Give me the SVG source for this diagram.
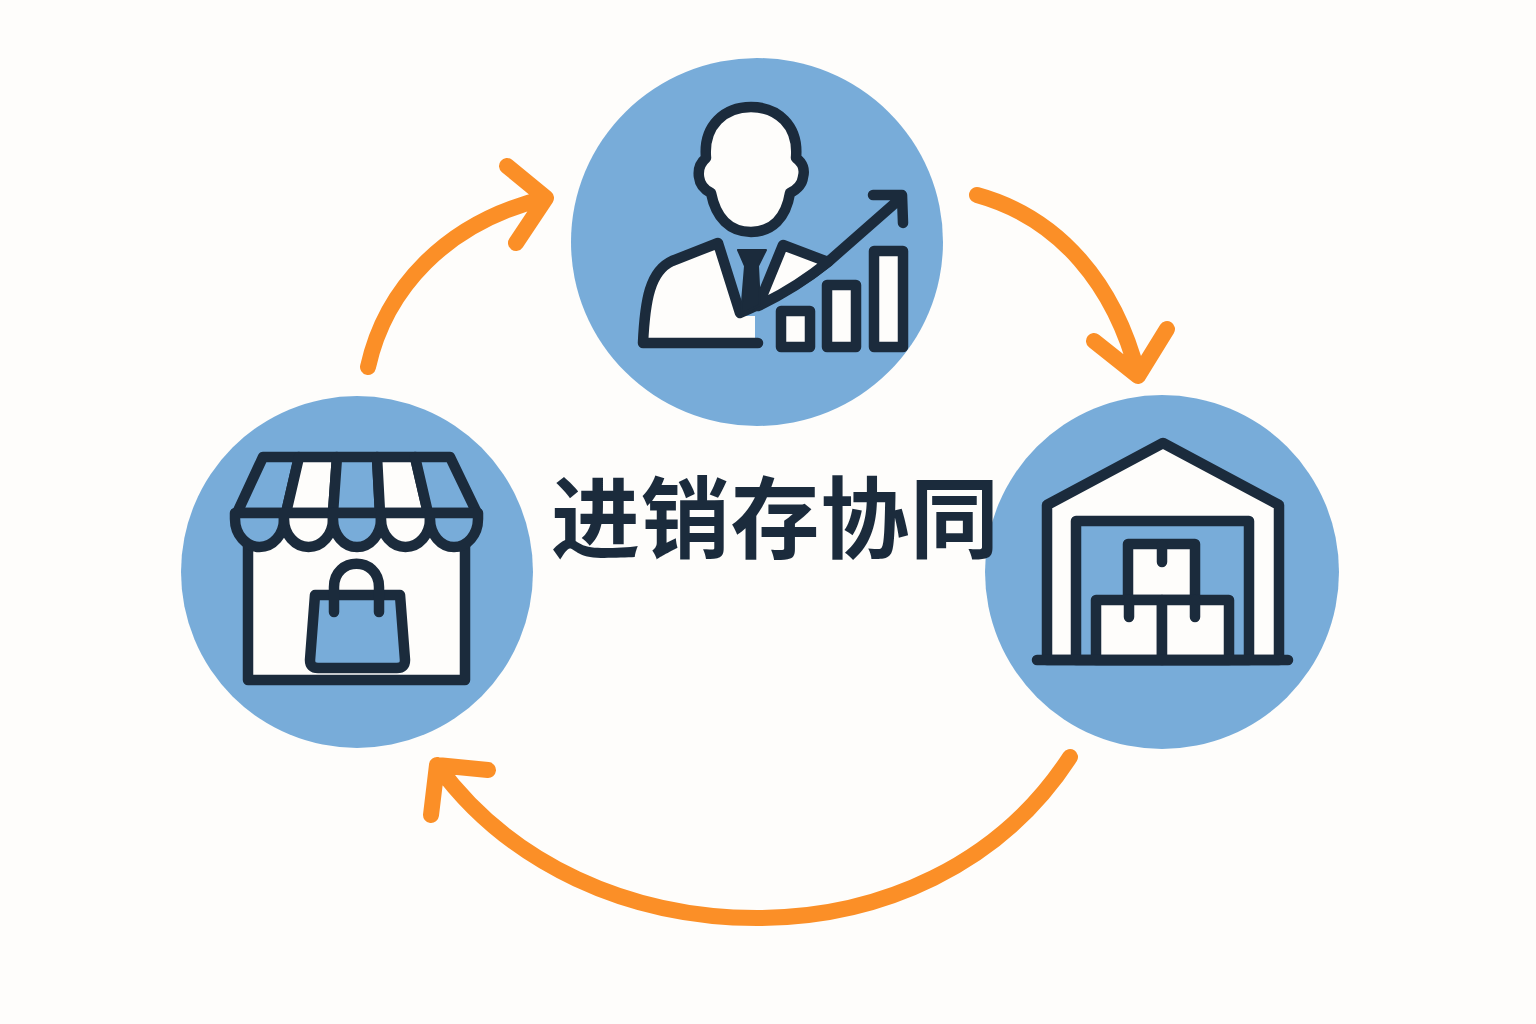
<svg xmlns="http://www.w3.org/2000/svg" width="1536" height="1024" viewBox="0 0 1536 1024">
<style>
.disc{fill:#78acd9}
.i{stroke:#1b2b3c;stroke-width:10.5;stroke-linejoin:round;stroke-linecap:round;fill:none}
.w{fill:#fefdfb}
.b{fill:#78acd9}
.a{fill:none;stroke:#fb8f27;stroke-width:16;stroke-linecap:round;stroke-linejoin:round}
.t{font-family:"Noto Sans CJK SC","Noto Sans",sans-serif;font-size:89px;font-weight:700;fill:#1b2b3c}
</style>
<rect width="1536" height="1024" fill="#fefdfb"/>
<g id="connectors">
<path class="a" d="M368 367C385 290 445 222 546 198M507 166L546 198L516 243"/>
<path class="a" d="M977 195C1060 218 1115 285 1138 375M1094 341L1138 376L1167 329"/>
<path class="a" d="M1070 757C1000 865 880 918 757 918C630 918 510 865 437 765M431 815L437 765L488 770"/>
</g>
<g id="node-manager">
<ellipse class="disc" cx="757" cy="242" rx="186" ry="184"/>
<path class="i w" d="M706 158C703 125 725 107 751 107C777 107 799 125 796 158C803 163 805 170 803 177C802 186 796 190 790 193C786 218 772 232 751 232C730 232 716 218 711 193C705 190 700 186 699 177C698 170 700 163 706 158Z"/>
<path class="w" d="M718 243L672 261C650 271 645 300 643 343L755 343L755 316L740 316Z"/>
<path class="i" d="M758 343L643 343C645 300 650 271 672 261L718 243L740 313C775 298 802 283 828 262L902 197M873 195L902 195L903 223"/>
<path class="i w" d="M783 245L828 262C802 283 775 298 758 306Z"/>
<path d="M738 250L766 250L758 266L760 305L741 314L745 266Z" fill="#1b2b3c" stroke="#1b2b3c" stroke-width="2" stroke-linejoin="round"/>
<rect class="i w" x="781" y="311" width="29" height="36"/>
<rect class="i w" x="827" y="285" width="29" height="62"/>
<rect class="i w" x="874" y="251" width="29" height="96"/>
</g>
<g id="node-store">
<circle class="disc" cx="357" cy="572" r="176"/>
<rect class="i w" x="248" y="530" width="217" height="150"/>
<path class="i b" d="M263 457L299 457L286 513L237 513Z"/>
<path class="i w" d="M299 457L337 457L333 513L286 513Z"/>
<path class="i b" d="M337 457L377 457L380 513L333 513Z"/>
<path class="i w" d="M377 457L415 457L428 513L380 513Z"/>
<path class="i b" d="M415 457L450 457L477 513L428 513Z"/>
<path class="i b" d="M235 513L284 513L284 519A24.5 28 0 0 1 235 519Z"/>
<path class="i w" d="M284 513L333 513L333 519A24.5 28 0 0 1 284 519Z"/>
<path class="i b" d="M333 513L381 513L381 519A24 28 0 0 1 333 519Z"/>
<path class="i w" d="M381 513L430 513L430 519A24.5 28 0 0 1 381 519Z"/>
<path class="i b" d="M430 513L478 513L478 519A24 28 0 0 1 430 519Z"/>
<path class="i b" d="M315 595L400 595L405 660Q405 668 397 668L318 668Q310 668 310 660Z"/>
<path class="i" d="M334 612L334 587C334 556 379 556 379 587L379 612"/>
</g>
<g id="node-warehouse">
<circle class="disc" cx="1162" cy="572" r="177"/>
<path class="i w" d="M1047 660L1047 505L1163 443L1279 505L1279 660Z"/>
<path class="i b" d="M1076 660L1076 521L1249 521L1249 660Z"/>
<rect class="i w" x="1128" y="544" width="67" height="56"/>
<rect class="i w" x="1096" y="600" width="66" height="60"/>
<rect class="i w" x="1162" y="600" width="67" height="60"/>
<path class="i" d="M1162 545L1162 562M1129 600L1129 617M1195 600L1195 617M1037 660L1288 660"/>
</g>
<text class="t" x="551" y="551" textLength="448" lengthAdjust="spacing">进销存协同</text>
</svg>
